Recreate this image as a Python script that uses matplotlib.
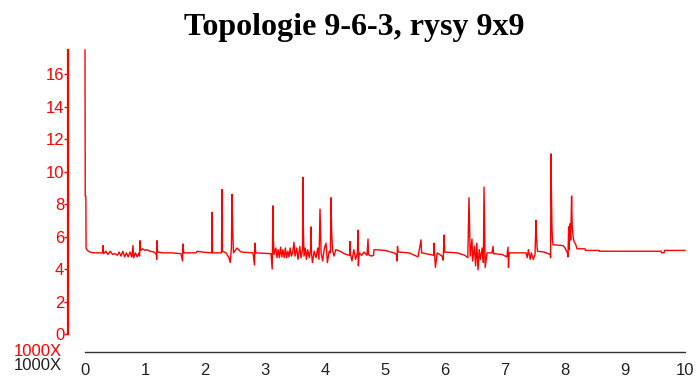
import matplotlib
matplotlib.use("Agg")
import matplotlib.pyplot as plt

# Topologie 9-6-3, rysy 9x9 - error curve

title = "Topologie 9-6-3, rysy 9x9"

# x in units of 1000 (axis shows 0..10 with "1000X")
xs = [0.000, 0.004, 0.014, 0.018, 0.040, 0.080, 0.150, 0.250, 0.290, 0.300,
      0.310, 0.350, 0.380, 0.420, 0.460, 0.500, 0.540, 0.570, 0.600, 0.630,
      0.660, 0.690, 0.720, 0.750, 0.780, 0.800, 0.810, 0.840, 0.870, 0.900,
      0.910, 0.917, 0.925, 0.960, 1.000, 1.030, 1.080, 1.150, 1.190, 1.195,
      1.200, 1.210, 1.300, 1.450, 1.600, 1.625, 1.633, 1.645, 1.750, 1.850,
      1.870, 1.950, 2.110, 2.117, 2.125, 2.275, 2.283, 2.290, 2.350, 2.400,
      2.420, 2.440, 2.450, 2.458, 2.465, 2.475, 2.533, 2.600, 2.800, 2.825,
      2.833, 2.845, 3.100, 3.120, 3.133, 3.140, 3.150, 3.180, 3.200, 3.220,
      3.240, 3.260, 3.280, 3.300, 3.320, 3.340, 3.360, 3.380, 3.400, 3.420,
      3.440, 3.460, 3.483, 3.500, 3.530, 3.550, 3.580, 3.600, 3.625, 3.633,
      3.640, 3.650, 3.670, 3.690, 3.710, 3.740, 3.760, 3.767, 3.775, 3.790,
      3.820, 3.850, 3.880, 3.900, 3.917, 3.925, 3.935, 3.960, 3.990, 4.017,
      4.040, 4.070, 4.090, 4.100, 4.110, 4.125, 4.150, 4.180, 4.250, 4.350,
      4.410, 4.417, 4.425, 4.450, 4.480, 4.510, 4.540, 4.550, 4.556, 4.570,
      4.610, 4.650, 4.700, 4.717, 4.725, 4.770, 4.810, 4.817, 5.000, 5.150,
      5.190, 5.200, 5.208, 5.220, 5.400, 5.550, 5.600, 5.610, 5.750, 5.810,
      5.817, 5.840, 5.870, 5.950, 5.970, 5.983, 5.995, 6.200, 6.330, 6.380,
      6.400, 6.410, 6.420, 6.450, 6.460, 6.490, 6.510, 6.530, 6.550, 6.570,
      6.590, 6.620, 6.640, 6.650, 6.660, 6.670, 6.700, 6.783, 6.800, 6.810,
      6.950, 7.030, 7.050, 7.058, 7.070, 7.350, 7.370, 7.390, 7.420, 7.440,
      7.470, 7.500, 7.517, 7.525, 7.540, 7.650, 7.755, 7.760, 7.767, 7.775,
      7.783, 7.790, 7.800, 7.967, 8.000, 8.040, 8.050, 8.060, 8.070, 8.085,
      8.095, 8.110, 8.120, 8.135, 8.150, 8.180, 8.200, 8.333, 8.340, 8.567,
      8.570, 9.600, 9.610, 9.650, 9.660, 10.000]

ys = [17.5, 8.5, 8.5, 5.3, 5.15, 5.05, 5.0, 5.0, 5.0, 5.45,
      4.95, 5.1, 4.9, 5.1, 4.9, 4.95, 4.85, 5.05, 4.8, 5.1,
      4.75, 5.0, 4.75, 5.05, 4.75, 5.45, 4.7, 5.0, 4.75, 5.0,
      4.8, 5.75, 5.15, 5.25, 5.15, 5.2, 5.1, 5.05, 4.9, 4.6,
      5.75, 5.05, 5.0, 5.0, 4.95, 4.5, 5.55, 5.0, 5.0, 5.0,
      5.1, 5.05, 5.0, 7.5, 5.0, 5.0, 8.9, 5.1, 5.0, 4.7,
      4.4, 5.3, 8.6, 7.3, 6.0, 5.0, 5.3, 5.05, 5.0, 4.25,
      5.6, 5.0, 4.95, 4.0, 7.9, 5.8, 4.9, 5.3, 4.7, 5.2,
      4.7, 5.35, 4.75, 5.2, 4.7, 5.3, 4.7, 5.1, 4.75, 5.3,
      4.8, 5.0, 5.65, 4.8, 5.3, 4.6, 5.4, 4.7, 5.2, 9.65,
      6.4, 4.8, 5.3, 4.6, 5.2, 4.7, 5.3, 6.6, 5.0, 4.4,
      5.1, 4.7, 5.3, 4.6, 7.7, 6.45, 5.0, 4.5, 5.3, 5.6,
      4.4, 5.1, 5.0, 8.4, 6.4, 5.2, 4.8, 5.2, 5.1, 4.9,
      4.85, 5.7, 4.9, 4.5, 5.2, 4.6, 5.0, 6.4, 4.2, 5.0,
      4.85, 5.05, 4.85, 5.85, 4.9, 4.8, 4.85, 5.2, 5.15, 5.0,
      4.9, 4.5, 5.4, 5.05, 5.0, 4.75, 5.8, 5.0, 4.9, 4.85,
      5.6, 4.1, 5.0, 4.8, 4.55, 6.1, 5.05, 5.0, 4.85, 4.7,
      8.4, 6.5, 4.8, 5.85, 4.5, 5.4, 4.2, 5.6, 3.95, 5.2,
      4.6, 5.3, 4.4, 9.05, 6.4, 4.1, 5.0, 5.0, 5.4, 4.95,
      4.9, 4.75, 5.35, 4.1, 5.0, 5.0, 4.7, 5.2, 4.6, 5.0,
      4.6, 4.9, 7.0, 5.9, 5.1, 5.05, 4.9, 4.7, 11.1, 8.4,
      6.5, 5.85, 5.5, 5.45, 5.3, 5.0, 4.75, 6.6, 5.2, 6.8,
      5.8, 8.5, 6.7, 6.0, 5.7, 5.5, 5.25, 5.25, 5.15, 5.15,
      5.1, 5.1, 5.0, 5.0, 5.15, 5.15]

yticks = [0, 2, 4, 6, 8, 10, 12, 14, 16]
xticks = [0, 1, 2, 3, 4, 5, 6, 7, 8, 9, 10]

plt.rcParams['font.family'] = ['Liberation Sans', 'DejaVu Sans']

fig = plt.figure(figsize=(7, 3.78), dpi=100)
ax = fig.add_axes([85/700, 1-334/378, 600/700, 284/378])

ax.plot(xs, ys, color='red', lw=1.0, clip_on=False)
ax.set_xlim(0, 10)
ax.set_ylim(0, 17.5)

ax.spines['top'].set_visible(False)
ax.spines['right'].set_visible(False)
ax.spines['left'].set_position(('outward', 12))
ax.spines['left'].set_color('red')
ax.spines['left'].set_linewidth(1.6)
ax.spines['bottom'].set_position(('outward', 13))
ax.spines['bottom'].set_color('#333333')
ax.spines['bottom'].set_linewidth(1.0)

ax.set_yticks(yticks)
ax.set_xticks(xticks)
ax.tick_params(axis='y', colors='red', length=3, width=1, pad=0, labelsize=12)
ax.tick_params(axis='x', colors='#222222', length=0, pad=8, labelsize=12)

fig.text(62/700, 1-351/378, "1000X", color='red', fontsize=12,
         ha='right', va='center')
fig.text(62/700, 1-366/378, "1000X", color='#222222', fontsize=12,
         ha='right', va='center')

fig.text(354/700, 1-28/378, title, fontsize=23, fontweight='bold',
         family='Liberation Serif', ha='center', va='center')

fig.savefig("out.png", dpi=100)
